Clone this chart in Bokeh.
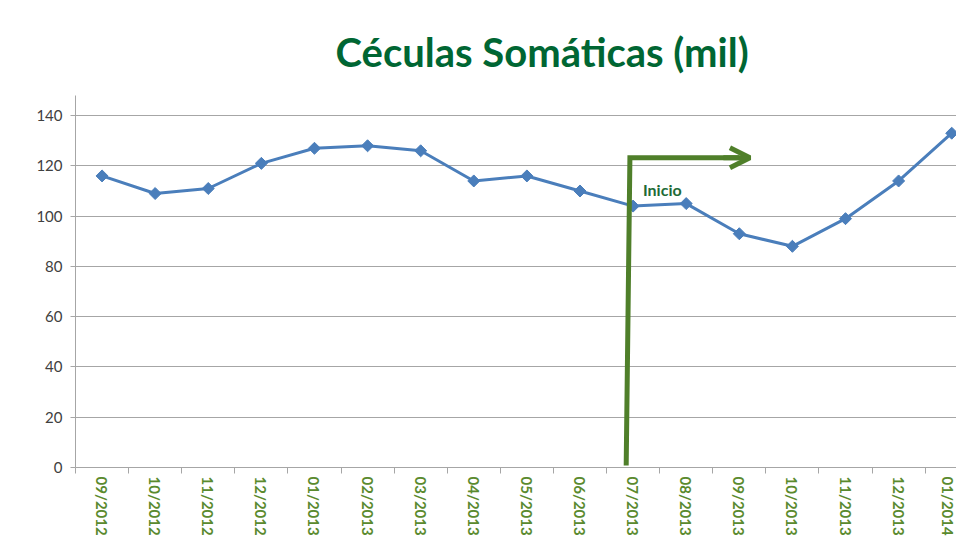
import math
from bokeh.plotting import figure
from bokeh.models import FixedTicker, Range1d, Arrow, OpenHead, Label, ColumnDataSource
from bokeh.embed import file_html
from bokeh.resources import INLINE

# ---- data ----
months = ["09/2012", "10/2012", "11/2012", "12/2012", "01/2013", "02/2013",
          "03/2013", "04/2013", "05/2013", "06/2013", "07/2013", "08/2013",
          "09/2013", "10/2013", "11/2013", "12/2013", "01/2014"]
cells = [116, 109, 111, 121, 127, 128, 126, 114, 116, 110, 104, 105,
         93, 88, 99, 114, 133]
y_ticks = [0, 20, 40, 60, 80, 100, 120, 140]
title_text = "Céculas Somáticas (mil)"
start_label = "Inicio"

# annotation path (the "Inicio" arrow)
arrow_xs = [9.87, 9.94, 12.0]
arrow_ys = [0.8, 123.2, 123.2]
arrow_tip_x = 12.2

x_idx = list(range(len(months)))
src = ColumnDataSource(dict(x=x_idx, y=cells))

GREEN_ARROW = "#4F7F2A"
GREEN_TEXT = "#1E6B37"
GREEN_TITLE = "#006633"
GREEN_TICK = "#5A8A2E"
BLUE = "#4A7EBB"
GRID = "#A6A6A6"
FONT = "Lato"

p = figure(width=956, height=538, output_backend="svg", toolbar_location=None,
           x_range=Range1d(-0.5, 16.09), y_range=Range1d(0, 148),
           min_border_left=75, min_border_right=0, min_border_top=95,
           min_border_bottom=40)
p.outline_line_color = None
p.background_fill_color = "white"
p.border_fill_color = "white"

p.title.text = title_text
p.title.align = "left"
p.title.offset = 260
p.title.standoff = 39
p.title.text_font = FONT
p.title.text_font_style = "bold"
p.title.text_font_size = "40px"
p.title.text_color = GREEN_TITLE

# y axis
p.yaxis.ticker = FixedTicker(ticks=y_ticks)
p.yaxis.axis_line_color = GRID
p.yaxis.major_tick_line_color = GRID
p.yaxis.major_tick_out = 5
p.yaxis.major_tick_in = 0
p.yaxis.minor_tick_line_color = None
p.yaxis.major_label_text_font = FONT
p.yaxis.major_label_text_font_size = "15px"
p.yaxis.major_label_text_color = "#404040"
p.yaxis.major_label_standoff = 8

# x axis: labels at category centres, tick marks between categories
p.xaxis.ticker = FixedTicker(ticks=x_idx, minor_ticks=[i - 0.5 for i in range(len(months) + 1)])
p.xaxis.major_label_overrides = {i: m for i, m in enumerate(months)}
p.xaxis.major_label_orientation = "vertical"
p.xaxis.major_tick_line_color = None
p.xaxis.major_tick_out = 0
p.xaxis.major_tick_in = 0
p.xaxis.minor_tick_line_color = GRID
p.xaxis.minor_tick_out = 6
p.xaxis.minor_tick_in = 0
p.xaxis.axis_line_color = GRID
p.xaxis.major_label_text_font = FONT
p.xaxis.major_label_text_font_style = "bold"
p.xaxis.major_label_text_font_size = "15px"
p.xaxis.major_label_text_color = GREEN_TICK
p.xaxis.major_label_standoff = 3

p.xgrid.grid_line_color = None
p.ygrid.ticker = FixedTicker(ticks=y_ticks)
p.ygrid.grid_line_color = GRID
p.ygrid.grid_line_width = 1

# series
p.line("x", "y", source=src, line_color=BLUE, line_width=3)
p.scatter("x", "y", source=src, marker="square", angle=math.pi / 4, size=8.5,
          fill_color=BLUE, line_color=BLUE)

# arrow annotation
p.line(arrow_xs, arrow_ys, line_color=GREEN_ARROW, line_width=5, line_join="miter")
p.add_layout(Arrow(end=OpenHead(size=20, line_width=5, line_color=GREEN_ARROW),
                   x_start=arrow_xs[-1] - 0.3, y_start=arrow_ys[-1],
                   x_end=arrow_tip_x, y_end=arrow_ys[-1],
                   line_color=GREEN_ARROW, line_width=5))
p.add_layout(Label(x=10.55, y=110.5, text=start_label, text_font=FONT,
                   text_font_style="bold", text_font_size="16px",
                   text_color=GREEN_TEXT, text_align="center",
                   text_baseline="middle"))

open("out.html", "w").write(file_html(p, INLINE))
